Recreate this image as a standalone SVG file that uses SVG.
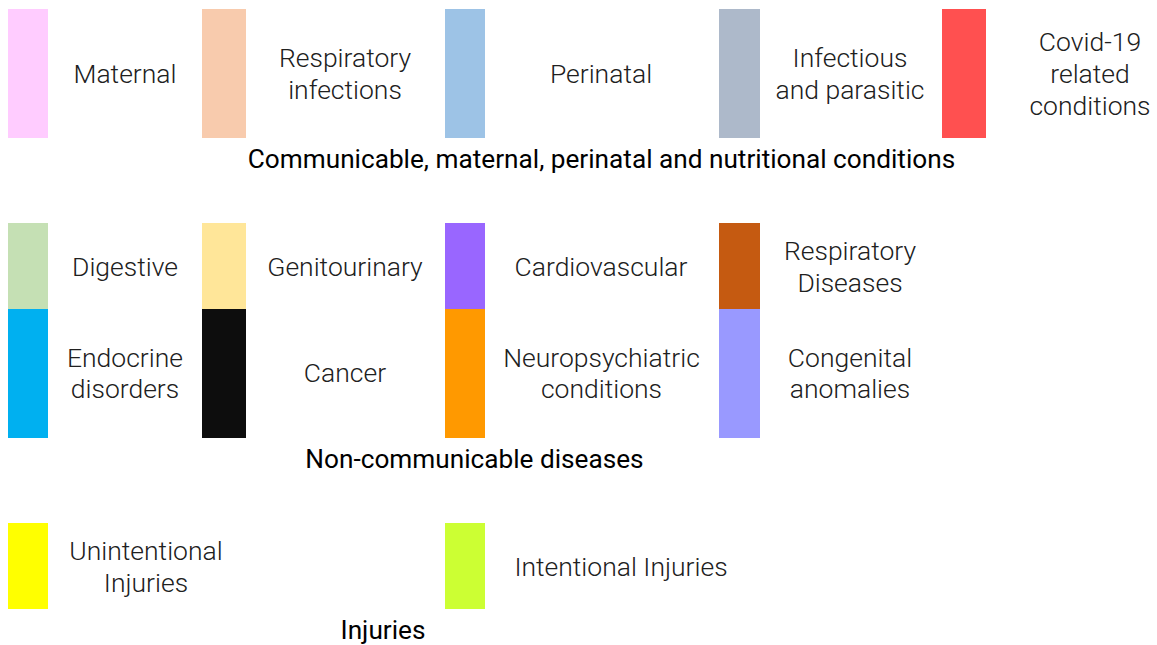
<svg xmlns="http://www.w3.org/2000/svg" width="1157" height="645" viewBox="0 0 1157 645">
<style>
.lbl{font-family:Roboto,"Liberation Sans",sans-serif;font-weight:300;font-size:26.5px;fill:#202020;text-anchor:middle}
.hd{font-family:Roboto,"Liberation Sans",sans-serif;font-weight:400;font-size:26.2px;fill:#000;text-anchor:middle}
</style>
<rect width="1157" height="645" fill="#fff"/>
<g id="maternal"><rect x="8" y="9" width="40" height="129" fill="#FFCCFF"/><text class="lbl" x="125" y="83">Maternal</text></g>
<g id="respiratory-infections"><rect x="202" y="9" width="44" height="129" fill="#F8CBAD"/><text class="lbl" x="345" y="67">Respiratory</text><text class="lbl" x="345" y="99">infections</text></g>
<g id="perinatal"><rect x="445" y="9" width="40" height="129" fill="#9DC3E6"/><text class="lbl" x="601" y="83">Perinatal</text></g>
<g id="infectious"><rect x="719" y="9" width="41" height="129" fill="#ADB9CA"/><text class="lbl" x="850" y="67">Infectious</text><text class="lbl" x="850" y="99">and parasitic</text></g>
<g id="covid"><rect x="942" y="9" width="44" height="129" fill="#FF5050"/><text class="lbl" x="1090" y="51">Covid-19</text><text class="lbl" x="1090" y="83">related</text><text class="lbl" x="1090" y="115">conditions</text></g>
<g id="heading-communicable"><text class="hd" x="601.5" y="168">Communicable, maternal, perinatal and nutritional conditions</text></g>

<g id="digestive"><rect x="8" y="223" width="40" height="86" fill="#C5E0B4"/><text class="lbl" x="125" y="276">Digestive</text></g>
<g id="genitourinary"><rect x="202" y="223" width="44" height="86" fill="#FFE699"/><text class="lbl" x="345" y="276">Genitourinary</text></g>
<g id="cardiovascular"><rect x="445" y="223" width="40" height="86" fill="#9966FF"/><text class="lbl" x="601" y="276">Cardiovascular</text></g>
<g id="respiratory-diseases"><rect x="719" y="223" width="41" height="86" fill="#C55A11"/><text class="lbl" x="850" y="260">Respiratory</text><text class="lbl" x="850" y="292">Diseases</text></g>
<g id="endocrine"><rect x="8" y="309" width="40" height="129" fill="#00B0F0"/><text class="lbl" x="125" y="367">Endocrine</text><text class="lbl" x="125" y="398">disorders</text></g>
<g id="cancer"><rect x="202" y="309" width="44" height="129" fill="#0D0D0D"/><text class="lbl" x="345" y="382">Cancer</text></g>
<g id="neuropsychiatric"><rect x="445" y="309" width="40" height="129" fill="#FF9900"/><text class="lbl" x="601.5" y="367">Neuropsychiatric</text><text class="lbl" x="601.5" y="398">conditions</text></g>
<g id="congenital"><rect x="719" y="309" width="41" height="129" fill="#9999FF"/><text class="lbl" x="850" y="367">Congenital</text><text class="lbl" x="850" y="398">anomalies</text></g>
<g id="heading-ncd"><text class="hd" x="474.5" y="468">Non-communicable diseases</text></g>

<g id="unintentional"><rect x="8" y="523" width="40" height="86" fill="#FFFF00"/><text class="lbl" x="146" y="560">Unintentional</text><text class="lbl" x="146" y="592">Injuries</text></g>
<g id="intentional"><rect x="445" y="523" width="40" height="86" fill="#CCFF33"/><text class="lbl" x="621" y="576">Intentional Injuries</text></g>
<g id="heading-injuries"><text class="hd" x="383" y="639">Injuries</text></g>
<g id="connectors"/>
</svg>
